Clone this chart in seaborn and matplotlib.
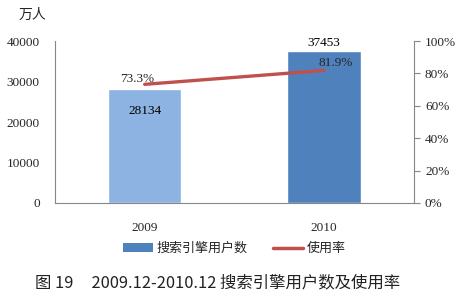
import matplotlib
matplotlib.use("Agg")
import matplotlib.pyplot as plt
import seaborn as sns
import pandas as pd
from matplotlib.patches import Patch
from matplotlib.lines import Line2D

years = ["2009", "2010"]
users = [28134, 37453]
rates = [73.3, 81.9]
left_ticks = [0, 10000, 20000, 30000, 40000]
right_ticks = [0, 20, 40, 60, 80, 100]
bar_colors = ["#8DB3E2", "#4F81BD"]
line_color = "#C0504D"

sns.set_theme(style="white")
plt.rcParams["font.family"] = ["Noto Sans CJK SC", "DejaVu Sans"]
serif = ["Liberation Serif", "DejaVu Serif"]

df = pd.DataFrame({"year": years, "users": users, "rate": rates, "pos": [0, 1]})

fig = plt.figure(figsize=(4.64, 3.07), dpi=100)
ax = fig.add_axes([0.1185, 0.339, 0.892 - 0.1185, 0.866 - 0.339])
sns.barplot(data=df, x="year", y="users", hue="year", palette=bar_colors,
            width=0.41, legend=False, ax=ax, saturation=1)
ax.set_ylim(0, 40000)
ax.set_yticks(left_ticks)
ax.set_yticklabels([str(t) for t in left_ticks], family=serif, fontsize=9.5)
ax.set_xlabel("")
ax.set_ylabel("")
ax.tick_params(axis="x", length=0, pad=14)
for lbl in ax.get_xticklabels():
    lbl.set_family(serif)
    lbl.set_fontsize(9.5)
ax.tick_params(axis="y", length=0, pad=11)
for s in ["top", "right"]:
    ax.spines[s].set_visible(False)
for s in ["left", "bottom"]:
    ax.spines[s].set_color("#868686")
    ax.spines[s].set_linewidth(0.8)

# bar labels
ax.text(0, users[0] - 5400, str(users[0]), ha="center", va="center",
        family=serif, fontsize=9.5, color="#000000")
ax.text(1, users[1] + 2200, str(users[1]), ha="center", va="center",
        family=serif, fontsize=9.5, color="#000000")

ax2 = ax.twinx()
sns.lineplot(data=df, x="pos", y="rate", ax=ax2, color=line_color,
             linewidth=2.4, legend=False)
ax2.set_ylim(0, 100)
ax2.set_yticks(right_ticks)
ax2.set_yticklabels([f"{t}%" for t in right_ticks], family=serif, fontsize=9.5)
ax2.tick_params(axis="y", length=4, width=0.8, color="#868686", pad=4, right=True)
ax2.set_xlabel("")
ax2.set_ylabel("")
for s in ["top", "left", "bottom"]:
    ax2.spines[s].set_visible(False)
ax2.spines["right"].set_color("#868686")
ax2.spines["right"].set_linewidth(0.8)
ax.set_xlim(-0.5, 1.5)
ax2.set_xlim(-0.5, 1.5)
ax2.text(-0.04, rates[0] + 3.2, f"{rates[0]}%", ha="center", va="center",
         family=serif, fontsize=9.5)
ax2.text(1.067, rates[1] + 4.3, f"{rates[1]}%", ha="center", va="center",
         family=serif, fontsize=9.5)

fig.text(0.04, 0.95, "万人", fontsize=10, ha="left", va="center")

handles = [Patch(facecolor=bar_colors[1], edgecolor="none"),
           Line2D([0], [0], color=line_color, linewidth=2.5)]
fig.legend(handles, ["搜索引擎用户数", "使用率"], loc="center",
           bbox_to_anchor=(0.505, 0.19), ncol=2, frameon=False, fontsize=9.4,
           handlelength=2.3, handleheight=0.7, columnspacing=1.9, handletextpad=0.3)

fig.text(0.075, 0.078, "图 19     2009.12-2010.12 搜索引擎用户数及使用率",
         fontsize=11.8, ha="left", va="center", color="#222222")

fig.savefig("out.png", dpi=100)
